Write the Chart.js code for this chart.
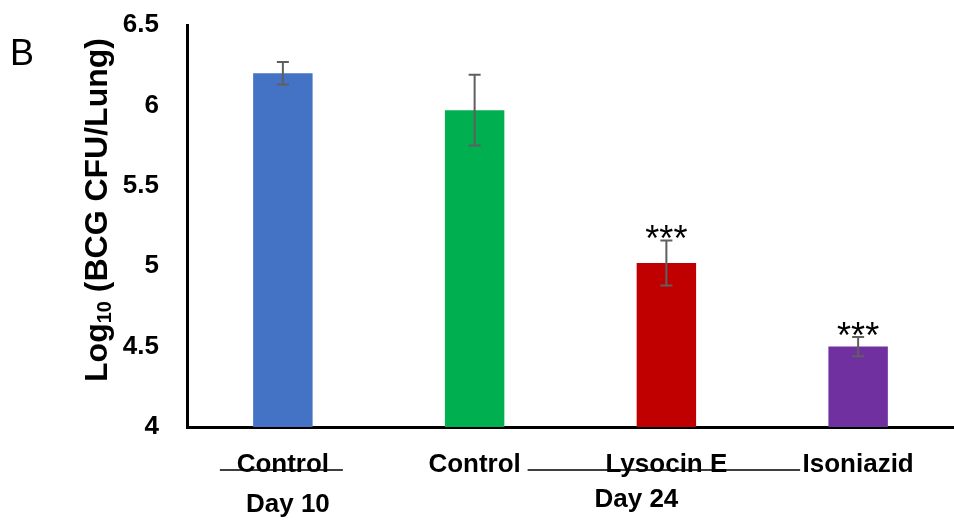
<!DOCTYPE html>
<html>
<head>
<meta charset="utf-8">
<script src="https://cdn.jsdelivr.net/npm/chart.js@4/dist/chart.umd.min.js"></script>
<style>
  body { margin: 0; background: #fff; overflow: hidden; }
  canvas { display: block; }
</style>
</head>
<body>
<canvas id="cfuChart" width="954" height="527"></canvas>
<script>
// valori
const categories = ['Control', 'Control', 'Lysocin E', 'Isoniazid'];
const groups = ['Day 10', 'Day 24'];
const meanLog = [6.20, 5.97, 5.02, 4.50];
const errLog = [0.07, 0.22, 0.14, 0.06];
const stars = ['', '', '***', '***'];
const barColors = ['#4472C4', '#00B050', '#C00000', '#7030A0'];
const yTicks = [4, 4.5, 5, 5.5, 6, 6.5];

const FONT = '"Liberation Sans", Arial, sans-serif';

// barre di errore, asterischi, titolo asse y e gruppi
const extras = {
  id: 'extras',
  afterDatasetsDraw(chart) {
    const ctx = chart.ctx;
    const y = chart.scales.y;
    const meta = chart.getDatasetMeta(0);
    ctx.save();
    meta.data.forEach((bar, i) => {
      const top = y.getPixelForValue(meanLog[i] + errLog[i]);
      const bot = y.getPixelForValue(meanLog[i] - errLog[i]);
      ctx.strokeStyle = '#5f5f5f';
      ctx.lineWidth = 2;
      ctx.beginPath();
      ctx.moveTo(bar.x, top); ctx.lineTo(bar.x, bot);
      ctx.moveTo(bar.x - 6, top); ctx.lineTo(bar.x + 6, top);
      ctx.moveTo(bar.x - 6, bot); ctx.lineTo(bar.x + 6, bot);
      ctx.stroke();
      if (stars[i]) {
        ctx.fillStyle = '#000';
        ctx.font = '36px ' + FONT;
        ctx.textAlign = 'center';
        ctx.textBaseline = 'alphabetic';
        ctx.fillText(stars[i], bar.x, top + 11);
      }
    });
    ctx.restore();
  },
  afterDraw(chart) {
    const ctx = chart.ctx;
    const x = chart.scales.x;
    ctx.save();
    // titolo asse y con pedice
    ctx.translate(98, 210);
    ctx.rotate(-Math.PI / 2);
    ctx.fillStyle = '#000';
    ctx.textBaseline = 'middle';
    const p1 = 'Log', p2 = '10', p3 = ' (BCG CFU/Lung)';
    ctx.font = 'bold 32px ' + FONT;
    const w1 = ctx.measureText(p1).width;
    const w3 = ctx.measureText(p3).width;
    ctx.font = 'bold 20px ' + FONT;
    const w2 = ctx.measureText(p2).width;
    const sx = -(w1 + w2 + w3) / 2;
    ctx.textAlign = 'left';
    ctx.font = 'bold 32px ' + FONT;
    ctx.fillText(p1, sx, 0);
    ctx.font = 'bold 20px ' + FONT;
    ctx.fillText(p2, sx + w1, 7);
    ctx.font = 'bold 32px ' + FONT;
    ctx.fillText(p3, sx + w1 + w2, 0);
    ctx.restore();

    ctx.save();
    // lettera del pannello
    ctx.fillStyle = '#000';
    ctx.font = '36px ' + FONT;
    ctx.textAlign = 'left';
    ctx.textBaseline = 'middle';
    ctx.fillText('B', 10, 55);

    // linee dei gruppi
    const c0 = x.getPixelForValue(0);
    const c1 = x.getPixelForValue(1);
    const c3 = x.getPixelForValue(3);
    ctx.strokeStyle = '#000';
    ctx.lineWidth = 1.5;
    ctx.beginPath();
    ctx.moveTo(c0 - 63, 470); ctx.lineTo(c0 + 60, 470);
    ctx.moveTo(c1 + 53, 470); ctx.lineTo(c3 - 58, 470);
    ctx.stroke();

    // etichette dei gruppi
    ctx.font = 'bold 26px ' + FONT;
    ctx.textAlign = 'center';
    ctx.fillText(groups[0], c0 + 5, 505);
    ctx.fillText(groups[1], (c1 + c3) / 2 - 30, 500);
    ctx.restore();
  }
};

new Chart(document.getElementById('cfuChart'), {
  type: 'bar',
  data: {
    labels: categories,
    datasets: [{
      data: meanLog,
      backgroundColor: barColors,
      borderWidth: 0,
      barPercentage: 0.31,
      categoryPercentage: 1
    }]
  },
  options: {
    responsive: false,
    animation: false,
    layout: { padding: { top: 25, left: 0, right: 0, bottom: 0 } },
    plugins: {
      legend: { display: false },
      tooltip: { enabled: false }
    },
    scales: {
      x: {
        grid: { display: false, drawTicks: false },
        border: { color: '#000', width: 3 },
        ticks: {
          color: '#000',
          font: { family: FONT, size: 26, weight: 'bold' },
          padding: 22,
          maxRotation: 0
        },
        afterFit: s => { s.height = 100; }
      },
      y: {
        min: 4,
        max: 6.5,
        grid: { display: false, drawTicks: false },
        border: { color: '#000', width: 3 },
        afterBuildTicks: s => { s.ticks = yTicks.map(v => ({ value: v })); },
        ticks: {
          color: '#000',
          font: { family: FONT, size: 26, weight: 'bold' },
          padding: 28,
          callback: v => String(v)
        },
        afterFit: s => { s.width = 187; s.paddingTop = 0; s.paddingBottom = 0; }
      }
    }
  },
  plugins: [extras]
});
</script>
</body>
</html>
